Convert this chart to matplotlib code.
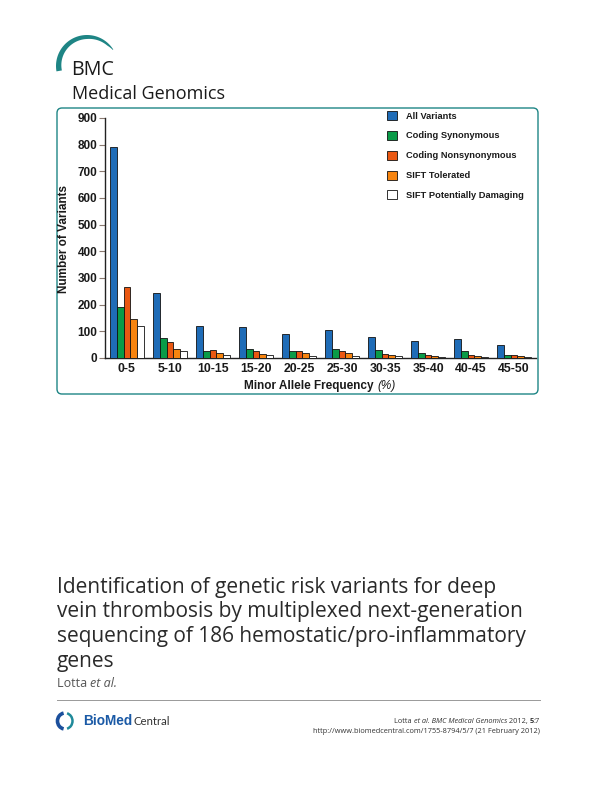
import numpy as np
import matplotlib
matplotlib.use("Agg")
import matplotlib.pyplot as plt
from matplotlib.patches import FancyBboxPatch, Polygon, Arc
from matplotlib.lines import Line2D

categories = ["0-5", "5-10", "10-15", "15-20", "20-25", "25-30", "30-35", "35-40", "40-45", "45-50"]
all_variants = [791, 244, 121, 118, 90, 104, 79, 65, 73, 50]
coding_syn = [191, 76, 28, 35, 25, 35, 31, 20, 28, 13]
coding_nonsyn = [265, 60, 31, 25, 25, 25, 15, 12, 12, 12]
sift_tol = [148, 35, 20, 16, 19, 19, 11, 9, 9, 9]
sift_dam = [121, 27, 12, 11, 9, 6, 9, 5, 2, 5]
series_names = ["All Variants", "Coding Synonymous", "Coding Nonsynonymous",
                "SIFT Tolerated", "SIFT Potentially Damaging"]
series_colors = ["#1f6cb7", "#0a9b48", "#ea5812", "#f7840f", "#ffffff"]
y_ticks = [0, 100, 200, 300, 400, 500, 600, 700, 800, 900]

W, H = 595, 794
fig = plt.figure(figsize=(W / 100, H / 100), dpi=100)

# overlay in pixel coordinates
ov = fig.add_axes([0, 0, 1, 1], zorder=0)
ov.set_xlim(0, W)
ov.set_ylim(H, 0)
ov.axis("off")

TEAL = "#1e8585"


def crescent(c, r, a0, a1, th_ang, th_val, n=120):
    ang = np.linspace(a0, a1, n)
    t = np.radians(ang)
    thick = np.interp(ang, th_ang, th_val)
    outer = np.c_[c[0] + r * np.cos(t), c[1] - r * np.sin(t)]
    ri = r - thick
    inner = np.c_[c[0] + ri * np.cos(t), c[1] - ri * np.sin(t)][::-1]
    return np.vstack([outer, inner])


ov.add_patch(Polygon(crescent((87, 66), 31, 32, 190, [32, 45, 90, 190], [0.6, 2.2, 4.0, 5.5]),
                     closed=True, fc=TEAL, ec="none"))
hdr_font = "Open Sans"
ov.text(71, 75, "BMC", fontsize=14.2, family=hdr_font, color="#1a1a1a", va="baseline")
ov.text(72, 99, "Medical Genomics", fontsize=13, family=hdr_font, color="#1a1a1a", va="baseline")

# chart box
ov.add_patch(FancyBboxPatch((57, 108), 481, 286, boxstyle="round,pad=0,rounding_size=5",
                            fc="white", ec=TEAL, lw=1.0))

# chart
ax = fig.add_axes([105 / W, 1 - 358 / H, (536 - 105) / W, (358 - 118) / H], zorder=2)
ax.patch.set_alpha(0)
x = np.arange(len(categories))
bw = 0.158
for k, (vals, col, name) in enumerate(zip(
        [all_variants, coding_syn, coding_nonsyn, sift_tol, sift_dam], series_colors, series_names)):
    ax.bar(x + (k - 2) * bw, vals, width=bw, color=col, edgecolor="#111111", linewidth=0.6,
           label=name, zorder=3)
ax.set_xlim(-0.51, 9.51)
ax.set_ylim(0, 900)
ax.set_yticks(y_ticks)
ax.set_xticks(x)
ax.set_xticklabels(categories)
for s in ["top", "right"]:
    ax.spines[s].set_visible(False)
ax.spines["left"].set_color("#222222")
ax.spines["bottom"].set_color("#222222")
ax.spines["left"].set_linewidth(1.0)
ax.spines["bottom"].set_linewidth(1.0)
tick_font = "Liberation Sans"
ax.tick_params(axis="y", length=4, width=0.8, color="#8a7a70", pad=1.5)
ax.tick_params(axis="x", length=0, pad=3.5)
for lab in ax.get_yticklabels():
    lab.set_fontfamily(tick_font)
    lab.set_fontweight("bold")
    lab.set_fontsize(8.5)
    lab.set_color("#1a1a1a")
for lab in ax.get_xticklabels():
    lab.set_fontfamily(tick_font)
    lab.set_fontweight("bold")
    lab.set_fontsize(8.8)
    lab.set_color("#1a1a1a")

leg = ax.legend(loc="upper left", bbox_to_anchor=(387 / W, 1 - 111 / H),
                bbox_transform=fig.transFigure, frameon=False,
                prop={"family": tick_font, "weight": "bold", "size": 6.7},
                handlelength=1.05, handleheight=1.1, handletextpad=0.95,
                labelspacing=1.1, borderpad=0, borderaxespad=0)
for t in leg.get_texts():
    t.set_color("#1a1a1a")

ov.text(64, 239, "Number of Variants", rotation=90, ha="center", va="center",
        family=tick_font, fontweight="bold", fontsize=8.5, color="#1a1a1a")
ov.text(374, 389, "Minor Allele Frequency", ha="right", va="baseline",
        family=tick_font, fontweight="bold", fontsize=8.5, color="#1a1a1a")
ov.text(377, 389, "(%)", ha="left", va="baseline",
        family=tick_font, style="italic", fontsize=8.5, color="#1a1a1a")

# title
title_lines = ["Identification of genetic risk variants for deep",
               "vein thrombosis by multiplexed next-generation",
               "sequencing of 186 hemostatic/pro-inflammatory",
               "genes"]
for i, line in enumerate(title_lines):
    ov.text(57, 593 + i * 24.5, line, fontsize=15, family=hdr_font, color="#2a2a2a",
            va="baseline")

fig.canvas.draw()
renderer = fig.canvas.get_renderer()


def place_pieces(x0, y, pieces, ha="left", **kw):
    widths = []
    objs = []
    for txt, st, wt in pieces:
        t = ov.text(0, y, txt, style=st, fontweight=wt, va="baseline", **kw)
        bb = t.get_window_extent(renderer)
        widths.append(bb.width * W / fig.bbox.width)
        objs.append(t)
    total = sum(widths)
    cur = x0 if ha == "left" else x0 - total
    for t, w in zip(objs, widths):
        t.set_x(cur)
        cur += w


place_pieces(57, 687, [("Lotta ", "normal", "normal"), ("et al.", "italic", "normal")],
             fontsize=9, family=hdr_font, color="#555555")
ov.add_line(Line2D([57, 540], [700, 700], color="#999999", lw=0.7))

# BioMed Central logo
ov.add_patch(Arc((65, 721), 15, 16, theta1=100, theta2=260, color="#1b4f9c", lw=2.6))
ov.add_patch(Arc((65, 721), 15, 16, theta1=-75, theta2=75, color="#1f8a9a", lw=1.8))
ov.text(83, 725, "BioMed", fontsize=9.8, fontweight="bold", family="Liberation Sans",
        color="#1b5aa6", va="baseline")
ov.text(134, 725, "Central", fontsize=8.2, family="Lato", color="#333333", va="baseline")

place_pieces(540, 723, [("Lotta ", "normal", "normal"), ("et al. BMC Medical Genomics", "italic", "normal"),
                        (" 2012, ", "normal", "normal"), ("5", "normal", "bold"), (":7", "normal", "normal")],
             ha="right", fontsize=5.3, family=hdr_font, color="#333333")
place_pieces(540, 733, [("http://www.biomedcentral.com/1755-8794/5/7 (21 February 2012)", "normal", "normal")],
             ha="right", fontsize=5.3, family=hdr_font, color="#333333")

fig.savefig("out.png", dpi=100)
